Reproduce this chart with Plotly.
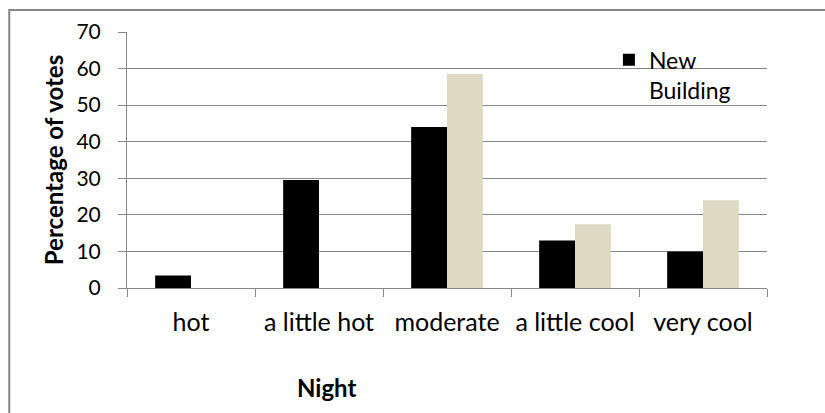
import plotly.graph_objects as go

# Thermal sensation votes at night, percentage of respondents
categories = ["hot", "a little hot", "moderate", "a little cool", "very cool"]
new_building = [3.4, 29.5, 44.0, 13.0, 10.0]
second_building = [0, 0, 58.5, 17.4, 24.0]
y_ticks = [0, 10, 20, 30, 40, 50, 60, 70]

FONT = "Lato"
GRID = "#868686"

fig = go.Figure()
fig.add_trace(go.Bar(
    x=categories, y=new_building, name="New<br>Building",
    marker=dict(color="#000000", line=dict(width=0)),
))
fig.add_trace(go.Bar(
    x=categories, y=second_building, showlegend=False,
    marker=dict(color="#DDD9C3", line=dict(width=0)),
))

fig.update_layout(
    width=825, height=413,
    margin=dict(l=127, r=58, t=32, b=125),
    paper_bgcolor="white", plot_bgcolor="white",
    barmode="group", bargap=0.44, bargroupgap=0,
    font=dict(family=FONT, size=20, color="#000000"),
    showlegend=True,
    legend=dict(
        x=0.753, y=0.975, xanchor="left", yanchor="top",
        bgcolor="rgba(0,0,0,0)", valign="top",
        font=dict(family=FONT, size=23),
        tracegroupgap=0,
    ),
)

fig.update_xaxes(
    type="category", tickson="boundaries", tickangle=0,
    ticks="outside", ticklen=8, tickcolor=GRID, tickwidth=1,
    showline=True, linecolor=GRID, linewidth=1,
    showgrid=False, ticklabelstandoff=12,
    tickfont=dict(family=FONT, size=25),
)
fig.update_yaxes(
    range=[0, 70], tickvals=y_ticks,
    ticks="outside", ticklen=8, tickcolor=GRID, tickwidth=1,
    showline=True, linecolor=GRID, linewidth=1,
    showgrid=True, gridcolor=GRID, gridwidth=1,
    zeroline=False, ticklabelstandoff=13,
    tickfont=dict(family=FONT, size=21),
    title=dict(text="<b>Percentage of votes</b>", font=dict(family=FONT, size=24), standoff=6),
)

# x-axis caption
fig.add_annotation(
    text="<b>Night</b>", xref="paper", yref="paper",
    x=0.311, y=-0.387, xanchor="center", yanchor="middle",
    showarrow=False, font=dict(family=FONT, size=24),
)

# chart frame
fig.add_shape(
    type="rect", xref="paper", yref="paper",
    x0=-0.184, x1=1.2, y0=-0.6, y1=1.086,
    line=dict(color=GRID, width=2), fillcolor="rgba(0,0,0,0)", layer="below",
)

fig.write_html("out.html")
